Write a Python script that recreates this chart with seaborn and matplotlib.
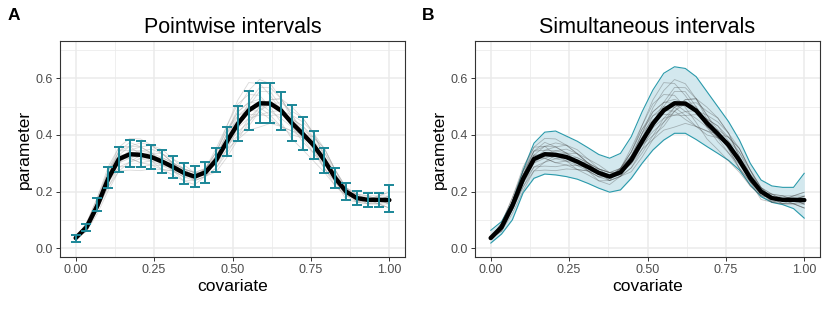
import numpy as np
import pandas as pd
import matplotlib
matplotlib.use("Agg")
import matplotlib.pyplot as plt
from matplotlib.ticker import MultipleLocator
import seaborn as sns

# covariate grid (30 points, i/29)
covariate = np.linspace(0, 1, 30)

mean_param = [0.036, 0.074, 0.150, 0.245, 0.315, 0.332, 0.330, 0.322, 0.306, 0.287,
              0.266, 0.253, 0.268, 0.312, 0.378, 0.440, 0.487, 0.512, 0.511, 0.486,
              0.442, 0.404, 0.364, 0.310, 0.248, 0.200, 0.177, 0.171, 0.171, 0.170]

# pointwise intervals (panel A)
pw_upper = [0.047, 0.086, 0.176, 0.288, 0.359, 0.382, 0.380, 0.365, 0.347, 0.326,
            0.300, 0.292, 0.306, 0.355, 0.429, 0.502, 0.556, 0.585, 0.585, 0.553,
            0.506, 0.462, 0.414, 0.353, 0.282, 0.229, 0.202, 0.196, 0.196, 0.224]
pw_lower = [0.021, 0.062, 0.132, 0.212, 0.271, 0.288, 0.286, 0.279, 0.265, 0.247,
            0.226, 0.215, 0.232, 0.270, 0.326, 0.379, 0.418, 0.441, 0.441, 0.418,
            0.379, 0.347, 0.314, 0.267, 0.212, 0.171, 0.153, 0.147, 0.147, 0.129]

# simultaneous band (panel B)
sim_upper = [0.063, 0.094, 0.162, 0.276, 0.371, 0.410, 0.414, 0.396, 0.378, 0.355,
             0.331, 0.318, 0.335, 0.394, 0.482, 0.559, 0.618, 0.641, 0.635, 0.606,
             0.553, 0.500, 0.447, 0.382, 0.300, 0.241, 0.220, 0.215, 0.215, 0.265]
sim_lower = [0.018, 0.050, 0.100, 0.196, 0.247, 0.262, 0.259, 0.253, 0.244, 0.229,
             0.212, 0.198, 0.206, 0.247, 0.300, 0.347, 0.382, 0.406, 0.406, 0.384,
             0.359, 0.335, 0.310, 0.276, 0.224, 0.182, 0.162, 0.154, 0.140, 0.106]

# posterior draws, as deviations from the mean (in units of dev_unit)
dev_unit = 0.014
draw_devs = [
    [0, 1, 2, 3, 3, 2, 0, -1, -2, -2, -2, -1, 1, 3, 4, 5, 4, 2, -1, -3, -4, -4, -4, -3, -2, -1, 0, 0, 0, 1],
    [0, -1, -2, -3, -3, -2, 0, 1, 2, 2, 2, 1, -1, -3, -4, -4, -3, -1, 1, 3, 4, 4, 3, 3, 2, 1, 0, 0, 0, -1],
    [0, 1, 1, 2, 3, 4, 4, 3, 2, 1, 0, 0, 0, 1, 2, 4, 5, 6, 5, 3, 1, 0, 0, 0, 0, 0, 0, 1, 1, 2],
    [0, 0, -1, -2, -3, -4, -4, -3, -2, -1, 0, 0, 0, -1, -2, -4, -5, -6, -5, -4, -2, -1, 0, 0, 0, 0, 0, -1, -1, -2],
    [0, 0, 1, 1, 1, 0, -1, -1, -1, 0, 0, 0, 1, 2, 4, 6, 7, 5, 2, 0, -1, -1, 0, 1, 1, 1, 0, 0, 1, 2],
    [0, 0, 0, 1, 2, 3, 2, 1, 0, -1, -2, -2, -1, 0, 1, 2, 1, -1, -3, -4, -3, -1, 1, 2, 2, 1, 0, -1, -1, -2],
    [0, -1, -1, -1, 0, 1, 2, 3, 3, 2, 1, 0, 0, 0, -1, -2, -3, -2, 0, 2, 3, 4, 3, 1, 0, 0, 1, 1, 0, 0],
    [0, 1, 1, 1, 0, -1, -2, -2, -1, 0, 1, 1, 0, -1, -1, 0, 2, 4, 4, 3, 2, 1, -1, -2, -2, -1, 0, 0, -1, -1],
    [0, 0, -1, -1, -2, -2, -1, 0, 1, 1, 0, -1, -1, 0, 2, 3, 2, 0, -2, -2, -1, 1, 2, 3, 2, 1, 1, 0, 0, 1],
    [0, 0, 1, 2, 2, 1, 1, 1, 1, 1, 1, 1, 1, 1, 0, -1, -2, -3, -3, -1, 1, 2, 1, 0, -1, -1, -1, 0, 0, -1],
    [0, 0, 0, -1, -1, 0, 1, 2, 2, 1, 0, -1, -1, -2, -2, -1, 1, 3, 3, 1, -1, -2, -2, -1, 0, 1, 1, 1, 0, 0],
    [0, -1, -1, 0, 1, 2, 2, 1, 0, -1, -1, 0, 1, 2, 3, 2, 0, -2, -4, -4, -2, 0, 2, 3, 2, 0, -1, -1, -1, 0],
    [0, 0, 1, 1, 2, 2, 3, 3, 2, 1, 1, 1, 1, 2, 3, 3, 2, 1, 0, 0, 1, 2, 2, 2, 1, 0, -1, -1, 0, 1],
    [0, 0, -1, -2, -2, -3, -3, -2, -2, -1, -1, -1, -1, -2, -3, -3, -2, -1, 0, 1, 0, -1, -2, -2, -1, 0, 0, 0, -1, -2],
    [0, 1, 2, 2, 1, -1, -2, -1, 0, 1, 1, 1, 0, 1, 2, 1, -1, -3, -2, 0, 2, 3, 3, 1, -1, -2, -1, 0, 1, 1],
    [0, 0, 0, 0, -1, -1, 0, 0, -1, -1, -1, 0, 1, 1, -1, -3, -4, -2, 1, 3, 2, 0, -1, -2, -1, 0, 1, 0, 0, -1],
]

x_ticks = [0.0, 0.25, 0.5, 0.75, 1.0]
x_ticklabels = ["0.00", "0.25", "0.50", "0.75", "1.00"]
y_ticks = [0.0, 0.2, 0.4, 0.6]
y_ticklabels = ["0.0", "0.2", "0.4", "0.6"]

rows = []
for d, dev in enumerate(draw_devs):
    for xv, m, dv in zip(covariate, mean_param, dev):
        rows.append({"draw": d, "covariate": xv, "parameter": m + dv * dev_unit})
draws = pd.DataFrame(rows)

sns.set_style("white")
plt.rcParams["font.family"] = ["Liberation Sans", "DejaVu Sans"]
plt.rcParams["text.color"] = "black"
plt.rcParams["axes.labelcolor"] = "black"

teal = "#1b8798"
fig = plt.figure(figsize=(8.3, 3.12), dpi=100)
ax1 = fig.add_axes([60 / 830, 1 - 257 / 312, 345 / 830, 216 / 312])
ax2 = fig.add_axes([475 / 830, 1 - 257 / 312, 345 / 830, 216 / 312])


def style_axis(ax, title):
    ax.set_xlim(-0.05, 1.05)
    ax.set_ylim(-0.031, 0.732)
    ax.xaxis.set_minor_locator(MultipleLocator(0.125))
    ax.yaxis.set_minor_locator(MultipleLocator(0.1))
    ax.grid(which="major", color="#ebebeb", lw=1.1)
    ax.grid(which="minor", color="#ebebeb", lw=0.55)
    ax.set_axisbelow(True)
    ax.set_xticks(x_ticks)
    ax.set_xticklabels(x_ticklabels)
    ax.set_yticks(y_ticks)
    ax.set_yticklabels(y_ticklabels)
    ax.tick_params(which="major", length=3, width=0.7, color="#333333",
                   labelsize=9, labelcolor="#4d4d4d", pad=2, direction="out",
                   bottom=True, left=True)
    ax.tick_params(which="minor", length=0)
    for s in ax.spines.values():
        s.set_color("#333333")
        s.set_linewidth(0.8)
    ax.set_xlabel("covariate", fontsize=12.5, labelpad=2, color="black")
    ax.set_ylabel("parameter", fontsize=12.5, labelpad=3, color="black")
    ax.set_title(title, fontsize=15.5, pad=6, color="black")


# Panel A: pointwise intervals
sns.lineplot(data=draws, x="covariate", y="parameter", units="draw", estimator=None,
             color="#a0a0a0", alpha=0.4, lw=0.6, ax=ax1)
sns.lineplot(x=covariate, y=mean_param, color="black", lw=3.2, ax=ax1)
mp = np.array(mean_param)
ax1.errorbar(covariate, mp,
             yerr=[mp - np.array(pw_lower), np.array(pw_upper) - mp],
             fmt="none", ecolor=teal, elinewidth=1.4, capsize=3.8, capthick=1.4)
style_axis(ax1, "Pointwise intervals")

# Panel B: simultaneous intervals
ax2.fill_between(covariate, sim_lower, sim_upper, color="#d3e8ee", lw=0)
sns.lineplot(x=covariate, y=sim_upper, color="#2a9aab", lw=0.8, ax=ax2)
sns.lineplot(x=covariate, y=sim_lower, color="#2a9aab", lw=0.8, ax=ax2)
sns.lineplot(data=draws, x="covariate", y="parameter", units="draw", estimator=None,
             color="#4a4a4a", alpha=0.35, lw=0.6, ax=ax2)
sns.lineplot(x=covariate, y=mean_param, color="black", lw=3.2, ax=ax2)
style_axis(ax2, "Simultaneous intervals")

fig.text(8 / 830, 1 - 16 / 312, "A", fontsize=12.5, fontweight="bold", va="center")
fig.text(422 / 830, 1 - 16 / 312, "B", fontsize=12.5, fontweight="bold", va="center")

fig.savefig("out.png", dpi=100)
